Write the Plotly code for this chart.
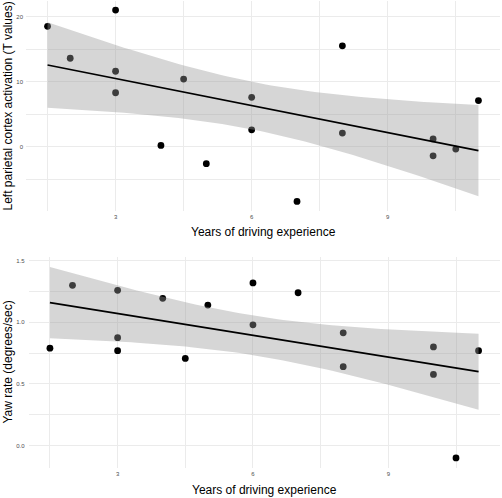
import numpy as np
import plotly.graph_objects as go

years = [1.5, 2, 3, 3, 3, 4, 4.5, 5, 6, 6, 7, 8, 8, 10, 10, 10.5, 11]
parietal = [18.5, 13.6, 21.0, 11.6, 8.3, 0.2, 10.4, -2.6, 7.6, 2.6, -8.4, 15.5, 2.1, 1.2, -1.4, -0.35, 7.1]
yaw = [0.79, 1.30, 1.26, 0.875, 0.77, 1.195, 0.707, 1.14, 1.32, 0.98, 1.24, 0.915, 0.64, 0.80, 0.577, -0.10, 0.77]

x_ticks = [3, 6, 9]
top_ticks = [0, 10, 20]
bottom_ticks = [0.0, 0.5, 1.0, 1.5]
bottom_ticklabels = ["0.0", "0.5", "1.0", "1.5"]

x_title = "Years of driving experience"
top_title = "Left parietal cortex activation (T values)"
bottom_title = "Yaw rate (degrees/sec)"

T_CRIT = 2.131  # t(0.975, df=15)


def lm_band(x, y, n_grid=80):
    x = np.asarray(x, float)
    y = np.asarray(y, float)
    n = len(x)
    b, a = np.polyfit(x, y, 1)
    resid = y - (a + b * x)
    s = np.sqrt(np.sum(resid ** 2) / (n - 2))
    xm = x.mean()
    sxx = np.sum((x - xm) ** 2)
    xg = np.linspace(x.min(), x.max(), n_grid)
    yg = a + b * xg
    se = s * np.sqrt(1 / n + (xg - xm) ** 2 / sxx)
    return xg, yg, yg - T_CRIT * se, yg + T_CRIT * se


fig = go.Figure()

band_fill = "rgba(153,153,153,0.4)"
for y, xa, ya in [(parietal, "x", "y"), (yaw, "x2", "y2")]:
    fig.add_trace(go.Scatter(x=years, y=y, mode="markers", xaxis=xa, yaxis=ya,
                             marker=dict(size=6.8, color="black"), showlegend=False))
    xg, yg, lo, hi = lm_band(years, y)
    fig.add_trace(go.Scatter(x=xg, y=hi, mode="lines", line=dict(width=0), xaxis=xa, yaxis=ya,
                             showlegend=False, hoverinfo="skip"))
    fig.add_trace(go.Scatter(x=xg, y=lo, mode="lines", line=dict(width=0), fill="tonexty",
                             fillcolor=band_fill, xaxis=xa, yaxis=ya, showlegend=False, hoverinfo="skip"))
    fig.add_trace(go.Scatter(x=xg, y=yg, mode="lines", line=dict(color="black", width=1.7),
                             xaxis=xa, yaxis=ya, showlegend=False))

grid = "#ebebeb"
FONT = "Liberation Sans, Arial, sans-serif"
tickfont = dict(family=FONT, size=6, color="#4d4d4d")

W_PLOT = 502 - 26 - 2
H_PLOT = 498 - 0 - 30

common_x = dict(range=[1.025, 11.475], tickvals=x_ticks, showgrid=True, gridcolor=grid, gridwidth=0.9,
                zeroline=False, showline=False, ticks="", tickfont=tickfont, ticklabelstandoff=1,
                automargin=False,
                minor=dict(tickvals=[1.5, 4.5, 7.5, 10.5], showgrid=True, gridcolor=grid, gridwidth=0.5))

def py(px):
    return (H_PLOT - px) / H_PLOT

def pxx(px):
    return (px - 26) / W_PLOT

fig.update_layout(
    width=502, height=498,
    margin=dict(l=26, r=2, t=0, b=30, autoexpand=False),
    plot_bgcolor="white", paper_bgcolor="white",
    xaxis=dict(domain=[pxx(26), 1], anchor="y", **common_x),
    xaxis2=dict(domain=[pxx(28.5), 1], anchor="y2", **common_x),
    yaxis=dict(domain=[py(211), py(0.5)], anchor="x", range=[-9.87, 22.47], tickvals=top_ticks,
               showgrid=True, gridcolor=grid, gridwidth=0.9, zeroline=False, ticks="",
               tickfont=tickfont, ticklabelstandoff=2, automargin=False,
               minor=dict(tickvals=[-5, 5, 15], showgrid=True, gridcolor=grid, gridwidth=0.5)),
    yaxis2=dict(domain=[py(467.5), py(257)], anchor="x2", range=[-0.178, 1.53], tickvals=bottom_ticks,
                ticktext=bottom_ticklabels, showgrid=True, gridcolor=grid, gridwidth=0.9, zeroline=False,
                ticks="", tickfont=tickfont, ticklabelstandoff=3, automargin=False,
                minor=dict(tickvals=[0.25, 0.75, 1.25], showgrid=True, gridcolor=grid, gridwidth=0.5)),
    annotations=[
        dict(text=x_title, xref="paper", yref="paper", x=pxx(263), y=py(232), xanchor="center",
             yanchor="middle", showarrow=False, font=dict(family=FONT, size=12, color="black")),
        dict(text=x_title, xref="paper", yref="paper", x=pxx(264), y=py(490), xanchor="center",
             yanchor="middle", showarrow=False, font=dict(family=FONT, size=12, color="black")),
        dict(text=top_title, xref="paper", yref="paper", x=pxx(7.5), y=py(106),
             xanchor="center", yanchor="middle", textangle=-90, showarrow=False,
             font=dict(family=FONT, size=12, color="black")),
        dict(text=bottom_title, xref="paper", yref="paper", x=pxx(7.5), y=py(362),
             xanchor="center", yanchor="middle", textangle=-90, showarrow=False,
             font=dict(family=FONT, size=12, color="black")),
    ],
)

fig.write_html("out.html", config={"displayModeBar": False},
               post_script="document.body.style.margin='0';document.body.style.padding='0';")
